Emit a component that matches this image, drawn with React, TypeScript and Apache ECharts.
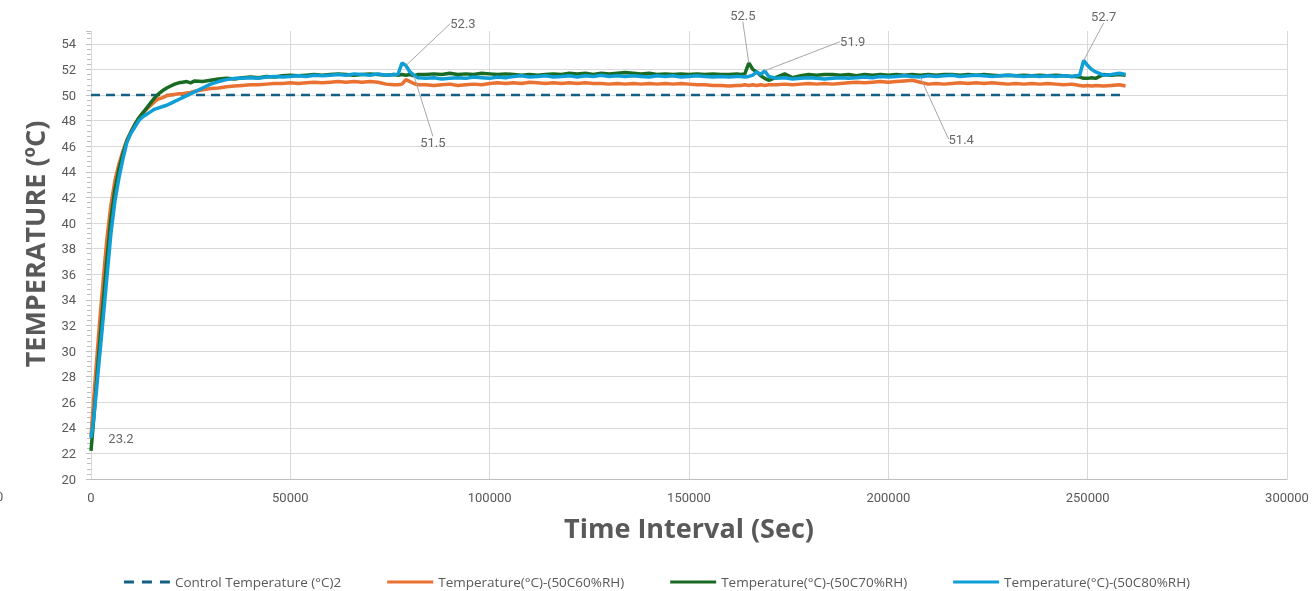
import React, { useEffect, useRef } from 'react';
import * as echarts from 'echarts';

// Time stamps (sec) shared by the three measured series
const TIME = [
  0, 500, 1000, 1500, 2000, 2500, 3000, 3500, 4000, 5000,
  6000, 7000, 8000, 9000, 10000, 11000, 12000, 13000, 14000, 15000,
  16000, 17000, 18000, 19000, 20000, 21000, 22000, 23000, 24000, 25000,
  26000,
  28000, 30000, 32000, 34000, 36000, 38000, 40000, 42000, 44000, 46000,
  48000, 50000, 52000, 54000, 56000, 58000, 60000, 62000, 64000, 66000,
  68000, 70000, 72000, 74000, 76000,
  77000, 78000, 79000, 80000, 81000, 82000,
  84000, 86000, 88000, 90000, 92000, 94000, 96000, 98000, 100000, 102000,
  104000, 106000, 108000, 110000, 112000, 114000, 116000, 118000, 120000, 122000,
  124000, 126000, 128000, 130000, 132000, 134000, 136000, 138000, 140000, 142000,
  144000, 146000, 148000, 150000, 152000, 154000, 156000, 158000, 160000, 162000,
  163000, 164000, 165000, 166000, 167000, 168000, 169000, 170000,
  172000, 174000, 176000, 178000, 180000, 182000, 184000, 186000, 188000, 190000,
  192000, 194000, 196000, 198000, 200000, 202000, 204000, 206000, 208000, 210000,
  212000, 214000, 216000, 218000, 220000, 222000, 224000, 226000, 228000, 230000,
  232000, 234000, 236000, 238000, 240000, 242000, 244000, 246000,
  247000, 248000, 249000, 250000, 251000, 252000,
  254000, 256000, 258000, 259500,
];

const TEMP_60RH = [
  23.3, 25.5, 27.6, 29.6, 31.6, 33.5, 35.3, 37.1, 38.8, 41.4,
  43.3, 44.6, 45.6, 46.5, 47.1, 47.7, 48.2, 48.6, 48.9, 49.2,
  49.5, 49.7, 49.8, 49.95, 50.0, 50.05, 50.1, 50.1, 50.15, 50.2,
  50.3,
  50.4, 50.5, 50.55, 50.65, 50.7, 50.75, 50.8, 50.8, 50.85, 50.9,
  50.9, 50.95, 50.9, 50.95, 51.0, 50.95, 51.0, 51.05, 51.0, 51.05,
  51.0, 51.05, 51.0, 50.85, 50.8,
  50.8, 50.85, 51.2, 51.05, 50.9, 50.8,
  50.8, 50.75, 50.8, 50.85, 50.75, 50.8, 50.85, 50.8, 50.9, 50.95,
  50.9, 50.95, 50.9, 51.0, 50.95, 50.9, 50.95, 50.9, 50.95, 50.9,
  50.95, 50.9, 50.9, 50.85, 50.9, 50.85, 50.9, 50.85, 50.9, 50.85,
  50.9, 50.85, 50.9, 50.85, 50.8, 50.8, 50.75, 50.75, 50.7, 50.75,
  50.75, 50.8, 50.75, 50.8, 50.75, 50.8, 50.75, 50.8,
  50.8, 50.85, 50.8, 50.85, 50.9, 50.85, 50.9, 50.85, 50.9, 50.95,
  51.0, 50.95, 51.0, 51.05, 51.0, 51.05, 51.1, 51.15, 51.0, 50.85,
  50.9, 50.85, 50.9, 50.95, 50.9, 50.95, 50.9, 50.95, 50.9, 50.85,
  50.9, 50.85, 50.9, 50.85, 50.9, 50.85, 50.8, 50.85,
  50.8, 50.75, 50.7, 50.75, 50.7, 50.75,
  50.7, 50.75, 50.8, 50.7,
];

const TEMP_70RH = [
  22.2, 24.0, 26.0, 28.0, 30.0, 31.8, 33.6, 35.4, 37.2, 40.4,
  42.6, 44.2, 45.4, 46.4, 47.1, 47.7, 48.2, 48.6, 49.0, 49.4,
  49.8, 50.1, 50.35, 50.55, 50.7, 50.85, 50.95, 51.0, 51.05, 50.95,
  51.1,
  51.05, 51.15, 51.25, 51.3, 51.25, 51.35, 51.4, 51.35, 51.45, 51.4,
  51.5, 51.55, 51.5, 51.55, 51.6, 51.55, 51.6, 51.65, 51.6, 51.55,
  51.6, 51.65, 51.6, 51.55, 51.6,
  51.55, 51.6, 51.55, 51.6, 51.5, 51.6,
  51.6, 51.65, 51.6, 51.7, 51.6, 51.65, 51.6, 51.7, 51.65, 51.6,
  51.65, 51.6, 51.55, 51.6, 51.55, 51.6, 51.65, 51.6, 51.7, 51.65,
  51.7, 51.6, 51.7, 51.65, 51.7, 51.75, 51.7, 51.65, 51.7, 51.6,
  51.65, 51.6, 51.65, 51.6, 51.65, 51.6, 51.65, 51.6, 51.6, 51.65,
  51.6, 51.65, 52.5, 52.0, 51.8, 51.5, 51.3, 51.15,
  51.4, 51.65, 51.35, 51.5, 51.6, 51.55, 51.6, 51.6, 51.55, 51.6,
  51.5, 51.6, 51.55, 51.6, 51.55, 51.6, 51.55, 51.6, 51.55, 51.6,
  51.55, 51.6, 51.6, 51.55, 51.6, 51.55, 51.6, 51.55, 51.5, 51.55,
  51.5, 51.55, 51.5, 51.55, 51.5, 51.55, 51.5, 51.45,
  51.45, 51.4, 51.3, 51.3, 51.35, 51.3,
  51.6, 51.55, 51.6, 51.55,
];

const TEMP_80RH = [
  23.2, 24.2, 25.7, 27.4, 29.1, 30.7, 32.4, 34.1, 35.8, 39.2,
  41.7, 43.5, 45.0, 46.3, 47.0, 47.5, 48.0, 48.3, 48.5, 48.7,
  48.9, 49.0, 49.1, 49.2, 49.35, 49.5, 49.65, 49.8, 49.95, 50.1,
  50.25,
  50.55, 50.85, 51.05, 51.2, 51.3, 51.3, 51.35, 51.3, 51.4, 51.45,
  51.4, 51.45, 51.5, 51.45, 51.55, 51.5, 51.55, 51.6, 51.55, 51.65,
  51.6, 51.55, 51.65, 51.55, 51.6,
  51.6, 52.5, 52.3, 51.8, 51.55, 51.35,
  51.3, 51.35, 51.25, 51.3, 51.35, 51.3, 51.4, 51.35, 51.3, 51.4,
  51.35, 51.45, 51.5, 51.4, 51.45, 51.5, 51.4, 51.45, 51.5, 51.4,
  51.5, 51.45, 51.55, 51.45, 51.5, 51.45, 51.5, 51.45, 51.4, 51.5,
  51.45, 51.5, 51.4, 51.45, 51.5, 51.45, 51.4, 51.45, 51.4, 51.45,
  51.45, 51.4, 51.45, 51.55, 51.8, 51.6, 51.9, 51.45,
  51.3, 51.35, 51.25, 51.3, 51.35, 51.3, 51.25, 51.3, 51.35, 51.3,
  51.35, 51.4, 51.35, 51.45, 51.4, 51.45, 51.5, 51.45, 51.4, 51.5,
  51.45, 51.5, 51.55, 51.45, 51.5, 51.55, 51.5, 51.45, 51.5, 51.55,
  51.5, 51.45, 51.5, 51.45, 51.5, 51.45, 51.5, 51.45,
  51.5, 51.55, 52.7, 52.3, 52.0, 51.8,
  51.55, 51.6, 51.7, 51.6,
];

const CONTROL_TIME = [0, 259500];
const CONTROL_TEMP = [50, 50];

const SERIES_NAMES = [
  'Control Temperature (°C)2',
  'Temperature(°C)-(50C60%RH)',
  'Temperature(°C)-(50C70%RH)',
  'Temperature(°C)-(50C80%RH)',
];

const X_TICKS = [0, 50000, 100000, 150000, 200000, 250000, 300000];

// Data-label annotations: which series and which time stamp (label offsets are layout only)
const ANNOTATIONS = [
  { series: 'b', time: 79000, dx: 57, dy: -42, line: true },
  { series: 'g', time: 81000, dx: 19, dy: 67, line: true },
  { series: 'g', time: 165000, dx: -6, dy: -48, line: true },
  { series: 'b', time: 169000, dx: 88, dy: -29, line: true },
  { series: 'b', time: 208000, dx: 41, dy: 62, line: true },
  { series: 'b', time: 249000, dx: 20, dy: -44, line: true },
  { series: 'b', time: 0, dx: 30, dy: 0, line: false },
];

const COLORS = ['#156082', '#E97132', '#196B24', '#0F9ED5'];
const FONT = 'Roboto, "Open Sans", sans-serif';
const WIDE_FONT = '"Open Sans", Roboto, sans-serif';

export default function App() {
  const ref = useRef<HTMLDivElement>(null);

  useEffect(() => {
    if (!ref.current) return;
    const chart = echarts.init(ref.current, null, { renderer: 'svg' });
    const pairs = (vals: number[]) => TIME.map((t, i) => [t, vals[i]]);
    const lookup: Record<string, number[]> = { o: TEMP_60RH, g: TEMP_70RH, b: TEMP_80RH };
    const annData = ANNOTATIONS.map((a) => {
      const idx = TIME.indexOf(a.time);
      return {
        value: [a.time, lookup[a.series][idx]],
        labelLine: { show: a.line },
      };
    });

    const dashIcon = 'path://M0,0h10v3h-10zM18,0h10v3h-10zM36,0h10v3h-10z';

    const option: any = {
      animation: false,
      textStyle: { fontFamily: FONT },
      grid: { left: 91, right: 27, top: 31, bottom: 112, containLabel: false },
      xAxis: {
        type: 'value',
        min: 0,
        max: 300000,
        interval: 50000,
        name: 'Time Interval (Sec)',
        nameLocation: 'middle',
        nameGap: 35,
        nameTextStyle: { fontSize: 27, fontWeight: 'bold', color: '#595959', fontFamily: WIDE_FONT },
        axisLine: { show: true, lineStyle: { color: '#BFBFBF', width: 1 } },
        axisTick: { show: false },
        axisLabel: {
          color: '#595959',
          fontSize: 13,
          margin: 12,
          formatter: (v: number) => (X_TICKS.includes(v) ? String(v) : ''),
        },
        splitLine: { show: true, lineStyle: { color: '#D9D9D9', width: 1 } },
      },
      yAxis: {
        type: 'value',
        min: 20,
        max: 55,
        interval: 2,
        name: 'TEMPERATURE (ºC)',
        nameLocation: 'middle',
        nameGap: 43,
        nameTextStyle: {
          fontSize: 27,
          fontWeight: 'bold',
          color: '#595959',
          fontFamily: WIDE_FONT,
          padding: [0, 0, 0, 22],
        },
        axisLine: { show: true, lineStyle: { color: '#D9D9D9', width: 1 } },
        axisTick: { show: true, length: 5, lineStyle: { color: '#BFBFBF' } },
        minorTick: { show: true, splitNumber: 5, length: 4, lineStyle: { color: '#BFBFBF' } },
        axisLabel: { color: '#595959', fontSize: 13, margin: 15, showMaxLabel: false },
        splitLine: { show: true, showMaxLine: false, lineStyle: { color: '#D9D9D9', width: 1 } },
      },
      legend: {
        data: [
          { name: SERIES_NAMES[0], icon: dashIcon },
          { name: SERIES_NAMES[1], icon: 'rect' },
          { name: SERIES_NAMES[2], icon: 'rect' },
          { name: SERIES_NAMES[3], icon: 'rect' },
        ],
        left: 'center',
        top: 575,
        padding: 0,
        itemWidth: 46,
        itemHeight: 3,
        itemGap: 46,
        textStyle: { color: '#595959', fontSize: 13.5, fontFamily: WIDE_FONT },
      },
      series: [
        {
          name: SERIES_NAMES[0],
          type: 'line',
          data: CONTROL_TIME.map((t, i) => [t, CONTROL_TEMP[i]]),
          symbol: 'none',
          color: COLORS[0],
          lineStyle: { color: COLORS[0], width: 2.5, type: [9, 6] },
        },
        {
          name: SERIES_NAMES[1],
          type: 'line',
          data: pairs(TEMP_60RH),
          symbol: 'none',
          color: COLORS[1],
          lineStyle: { color: COLORS[1], width: 3.5 },
        },
        {
          name: SERIES_NAMES[2],
          type: 'line',
          data: pairs(TEMP_70RH),
          symbol: 'none',
          color: COLORS[2],
          lineStyle: { color: COLORS[2], width: 3.5 },
        },
        {
          name: SERIES_NAMES[3],
          type: 'line',
          data: pairs(TEMP_80RH),
          symbol: 'none',
          color: COLORS[3],
          lineStyle: { color: COLORS[3], width: 3.5 },
        },
        {
          name: 'labels',
          type: 'scatter',
          data: annData,
          symbolSize: 0.1,
          silent: true,
          z: 10,
          itemStyle: { color: 'transparent' },
          label: {
            show: true,
            position: 'inside',
            color: '#404040',
            fontSize: 13,
            fontFamily: FONT,
            formatter: (p: any) => String(p.value[1]),
          },
          labelLine: { show: true, lineStyle: { color: '#A6A6A6', width: 1 } },
          labelLayout: (p: any) => ({ dx: ANNOTATIONS[p.dataIndex].dx, dy: ANNOTATIONS[p.dataIndex].dy }),
        },
      ],
      graphic: [
        { type: 'text', x: -4, y: 490, style: { text: '0', fontSize: 13, fill: '#595959', fontFamily: FONT } },
      ],
    };
    chart.setOption(option);
    return () => chart.dispose();
  }, []);

  return (
    <div
      ref={ref}
      style={{ position: 'fixed', left: 0, top: 0, width: 1314, height: 591 }}
    />
  );
}
